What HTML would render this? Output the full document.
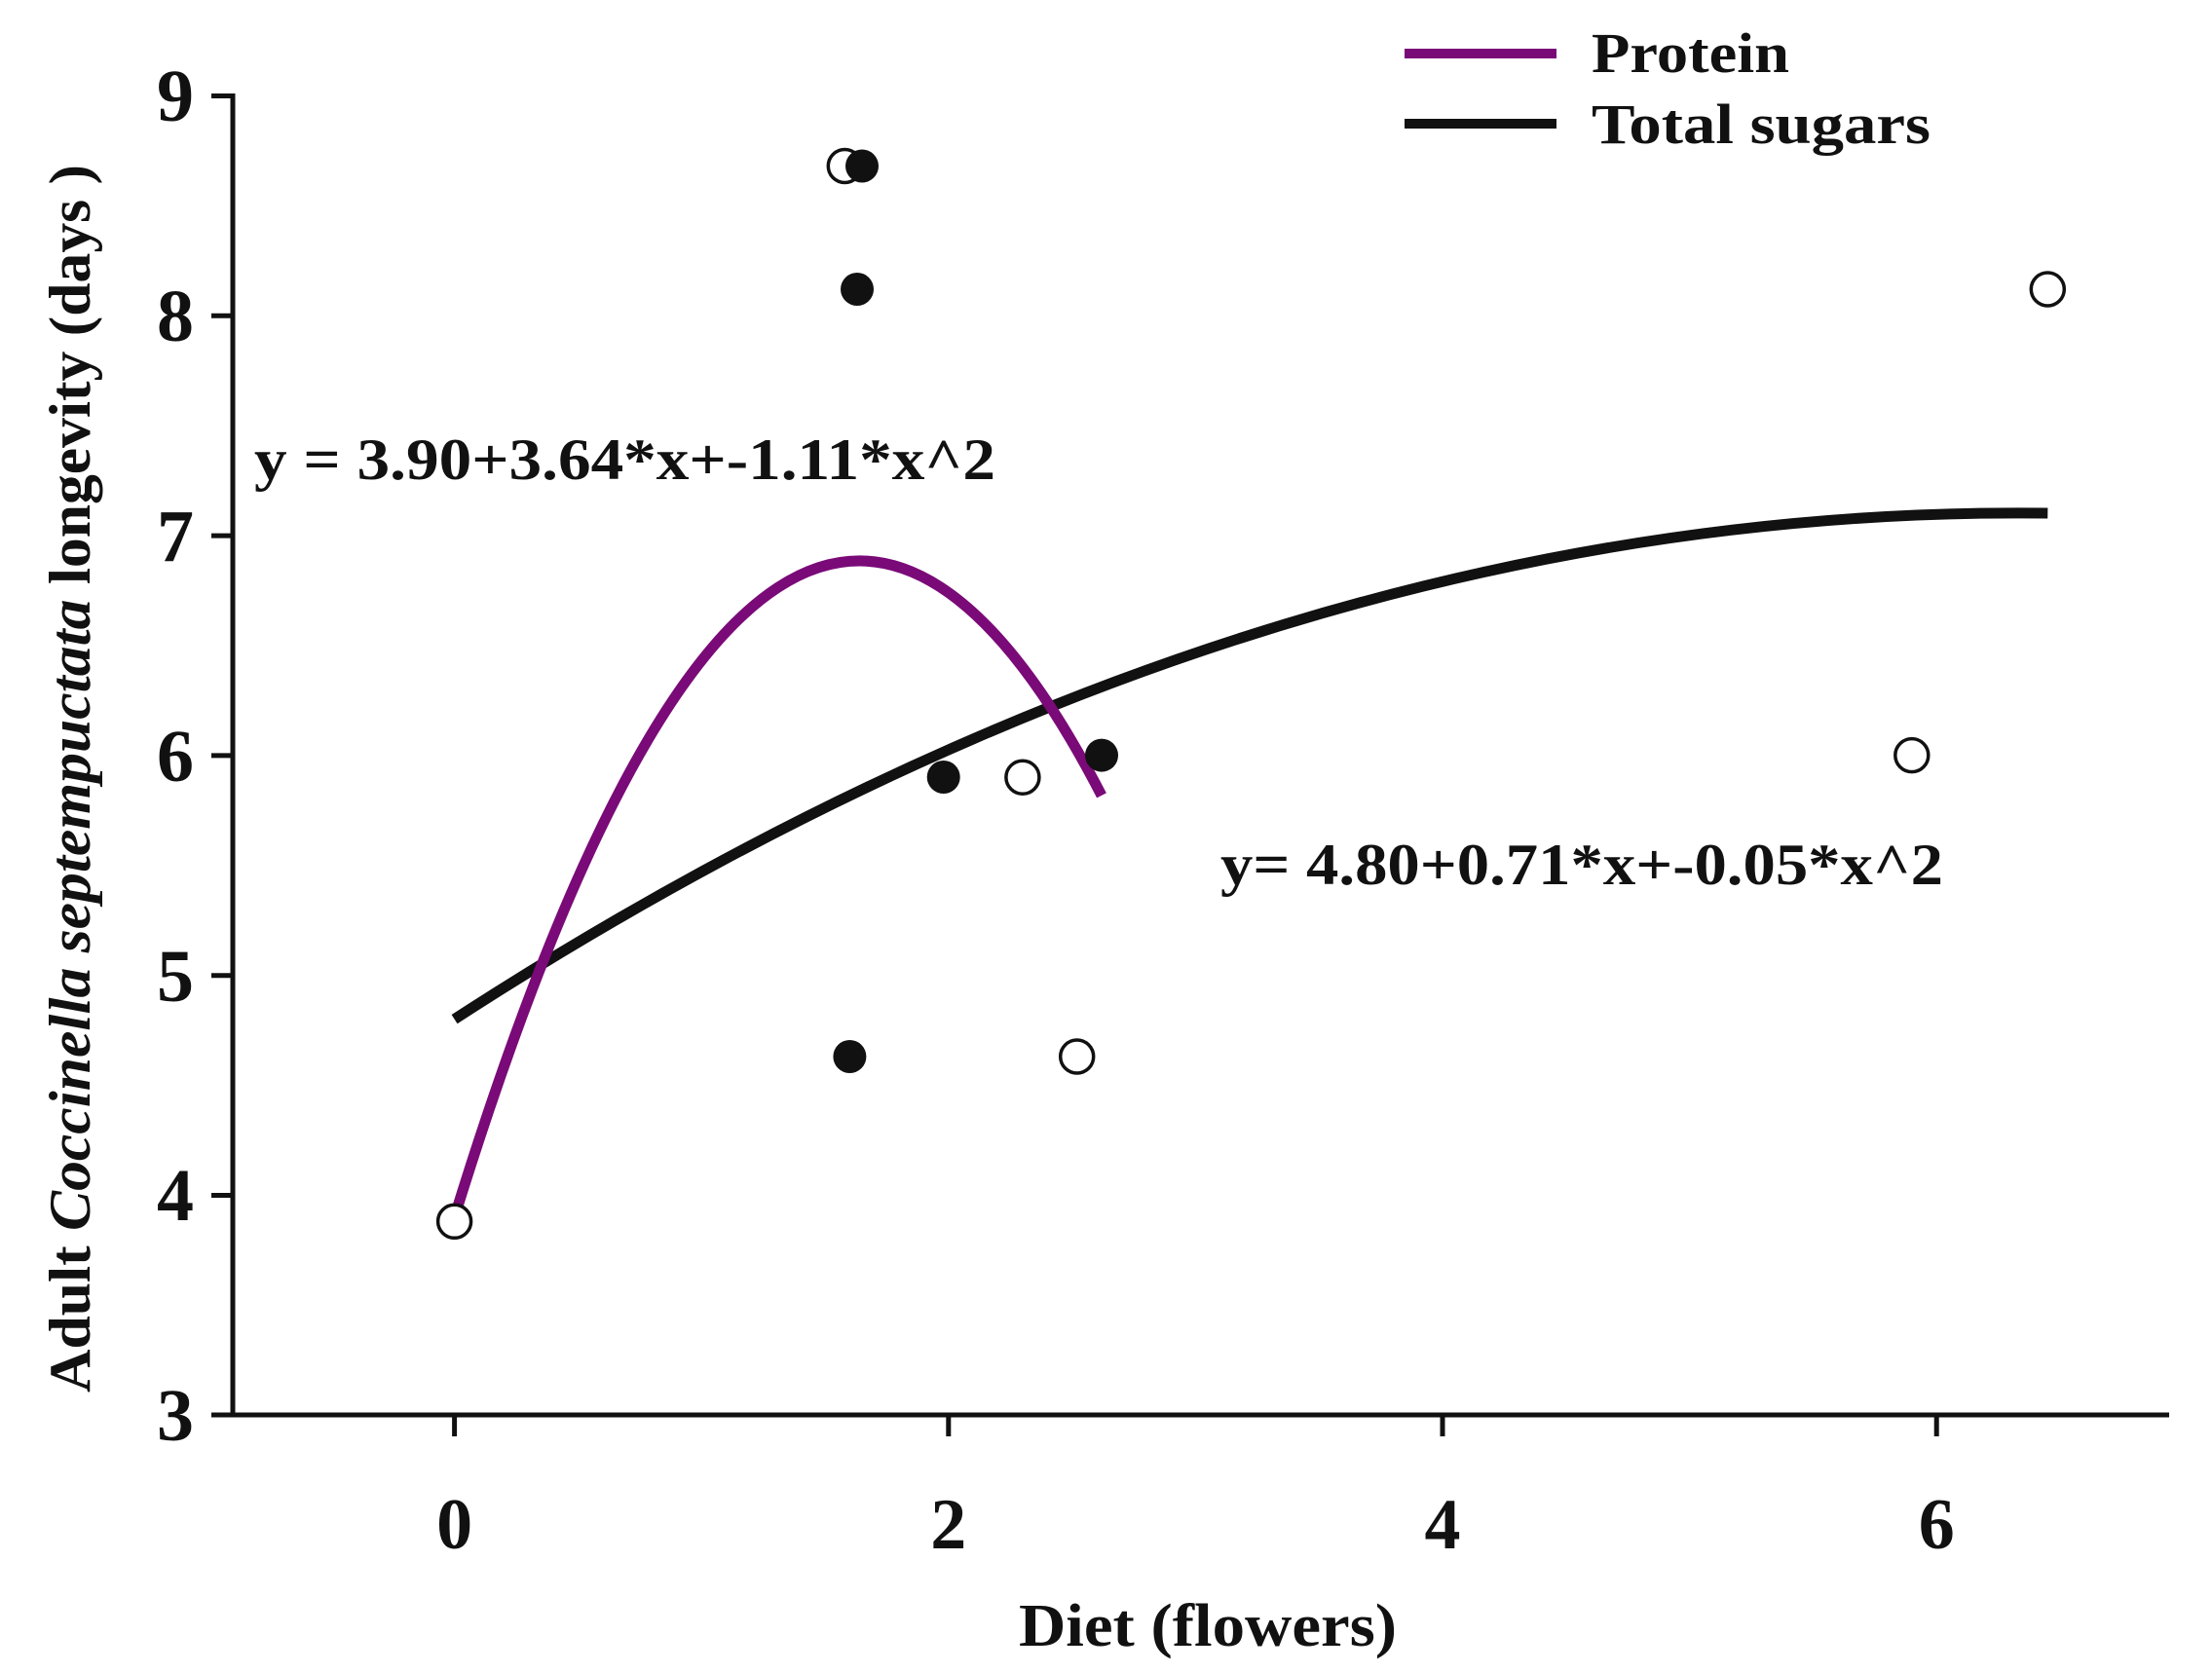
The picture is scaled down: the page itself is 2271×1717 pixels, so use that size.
<!DOCTYPE html>
<html><head><meta charset="utf-8"><style>
html,body{margin:0;padding:0;background:#fff;}
svg{display:block;}
text{font-family:"Liberation Serif",serif;font-weight:bold;fill:#111;}
</style></head><body>
<svg width="2271" height="1717" viewBox="0 0 2271 1717" xmlns="http://www.w3.org/2000/svg">
<g stroke="#111" stroke-width="5" fill="none">
<line x1="239" y1="96" x2="239" y2="1455"/>
<line x1="217" y1="1453" x2="2227" y2="1453"/>
<line x1="217" y1="98.5" x2="239" y2="98.5"/>
<line x1="217" y1="324.3" x2="239" y2="324.3"/>
<line x1="217" y1="550.1" x2="239" y2="550.1"/>
<line x1="217" y1="775.9" x2="239" y2="775.9"/>
<line x1="217" y1="1001.7" x2="239" y2="1001.7"/>
<line x1="217" y1="1227.5" x2="239" y2="1227.5"/>
<line x1="466.6" y1="1453" x2="466.6" y2="1475"/>
<line x1="973.8" y1="1453" x2="973.8" y2="1475"/>
<line x1="1481" y1="1453" x2="1481" y2="1475"/>
<line x1="1988.2" y1="1453" x2="1988.2" y2="1475"/>
</g>
<g font-size="76" text-anchor="middle">
<text x="180" y="124">9</text>
<text x="180" y="350">8</text>
<text x="180" y="576">7</text>
<text x="180" y="802">6</text>
<text x="180" y="1028">5</text>
<text x="180" y="1253">4</text>
<text x="180" y="1479">3</text>
</g>
<g font-size="74" text-anchor="middle">
<text x="466.6" y="1590">0</text>
<text x="973.8" y="1590">2</text>
<text x="1481" y="1590">4</text>
<text x="1988.2" y="1590">6</text>
</g>
<text x="1046" y="1690" font-size="62" textLength="388" lengthAdjust="spacingAndGlyphs">Diet (flowers)</text>
<text transform="translate(92,1430) rotate(-90)" font-size="60" textLength="1261" lengthAdjust="spacingAndGlyphs">Adult <tspan font-style="italic">Coccinella septempuctata</tspan> longevity (days )</text>
<line x1="1442" y1="55" x2="1598" y2="55" stroke="#7a0a78" stroke-width="10"/>
<line x1="1442" y1="127" x2="1598" y2="127" stroke="#111" stroke-width="10"/>
<text x="1634" y="74" font-size="58" textLength="203" lengthAdjust="spacingAndGlyphs">Protein</text>
<text x="1634" y="147" font-size="58" textLength="348" lengthAdjust="spacingAndGlyphs">Total sugars</text>
<text x="261" y="492" font-size="60" textLength="761" lengthAdjust="spacingAndGlyphs">y = 3.90+3.64*x+-1.11*x^2</text>
<text x="1253" y="908" font-size="60" textLength="742" lengthAdjust="spacingAndGlyphs">y= 4.80+0.71*x+-0.05*x^2</text>
<path d="M466.6,1046.6 Q1284,517 2102.3,527" stroke="#111" stroke-width="11" fill="none"/>
<path d="M466.6,1249.8 Q798.8,173 1131,816.9" stroke="#7a0a78" stroke-width="11" fill="none"/>
<g fill="#fff" stroke="#111" stroke-width="3.5">
<circle cx="867.3" cy="170.5" r="17"/>
<circle cx="466.6" cy="1254.3" r="17"/>
<circle cx="1049.9" cy="798.2" r="17"/>
<circle cx="1105.7" cy="1085" r="17"/>
<circle cx="1962.8" cy="775.6" r="17"/>
<circle cx="2102.3" cy="297" r="17"/>
</g>
<g fill="#111">
<circle cx="885" cy="170.5" r="17"/>
<circle cx="880" cy="297" r="17"/>
<circle cx="968.7" cy="798" r="17"/>
<circle cx="1131" cy="775.6" r="17"/>
<circle cx="872.4" cy="1085" r="17"/>
</g>
</svg>
</body></html>
